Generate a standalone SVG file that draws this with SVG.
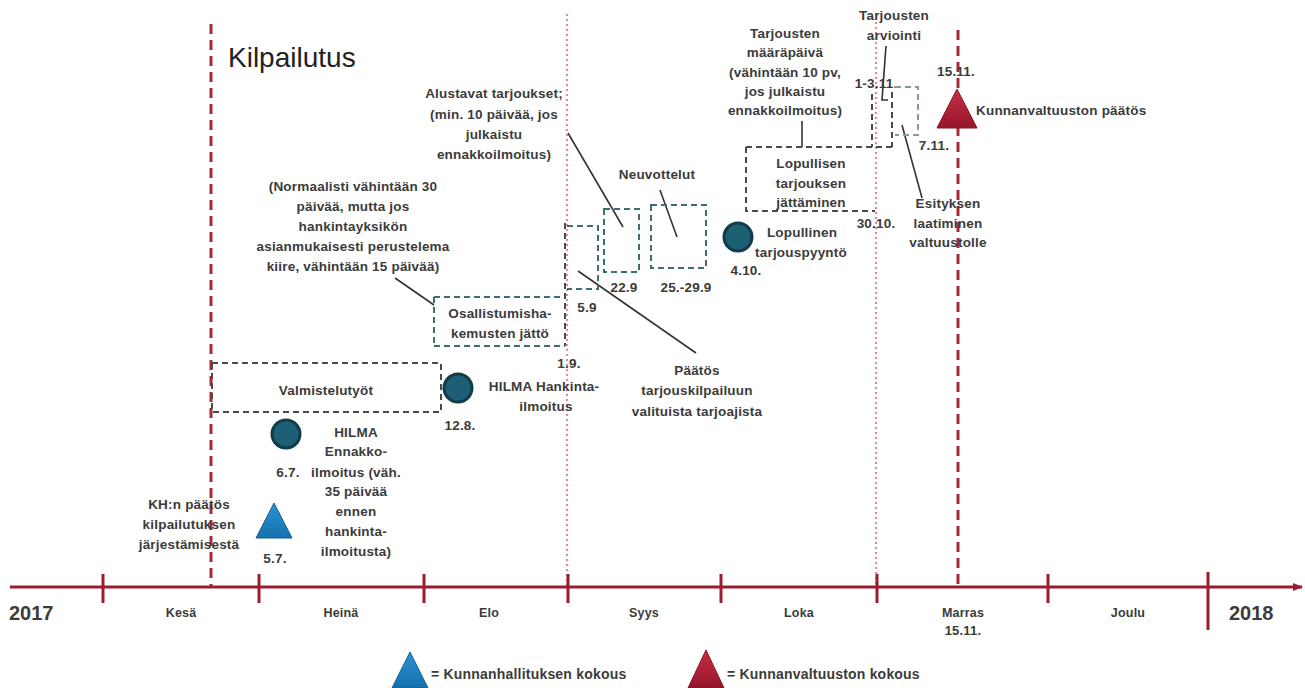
<svg xmlns="http://www.w3.org/2000/svg" width="1305" height="688" viewBox="0 0 1305 688">
<style>
.t{font-family:"Liberation Sans",Arial,sans-serif;font-size:13.5px;letter-spacing:0.2px;font-weight:bold;fill:#3b3b3b;text-anchor:middle}
.s{text-anchor:start}
.big{font-size:20px;letter-spacing:0}
.mon{font-size:12.5px}
.dt{font-size:13px}
.leg{font-size:14px}
.ttl{font-size:28px;font-weight:normal;fill:#222;letter-spacing:0}
.box{fill:none;stroke:#4a4a4a;stroke-width:2;stroke-dasharray:6 4}
.teal{stroke:#3f6e72}
.light{stroke:#8a9a9c}
.lead{fill:none;stroke:#333;stroke-width:1.6}
.reddash{stroke:#a82a35;stroke-width:3;stroke-dasharray:10 6}
.pink{stroke:#e0899d;stroke-width:2.2;stroke-dasharray:2 3}
.axis{stroke:#9b1c31;stroke-width:3}
.tick{stroke:#9b1c31;stroke-width:3}
.dot{fill:#1d5f75;stroke:#123c4a;stroke-width:3}
</style>
<defs>
<marker id="arr" markerWidth="10" markerHeight="8" refX="9" refY="4" orient="auto" markerUnits="userSpaceOnUse">
<path d="M0,0 L10,4 L0,8 z" fill="#9b1c31"/>
</marker>
<linearGradient id="blueG" x1="0" y1="0" x2="0" y2="1">
<stop offset="0" stop-color="#2a93d6"/><stop offset="1" stop-color="#1670ad"/>
</linearGradient>
<linearGradient id="redG" x1="0" y1="0" x2="0" y2="1">
<stop offset="0" stop-color="#c82f45"/><stop offset="1" stop-color="#951629"/>
</linearGradient>
</defs>
<rect width="1305" height="688" fill="#ffffff"/>

<g id="guides">
<line class="reddash" x1="211" y1="24" x2="211" y2="586"/>
<line class="reddash" x1="958" y1="30" x2="958" y2="586"/>
<line class="pink" x1="567" y1="14" x2="567" y2="586"/>
<line class="pink" x1="876" y1="22" x2="876" y2="586"/>
</g>

<g id="axis">
<line class="axis" x1="10" y1="587" x2="1302" y2="587" marker-end="url(#arr)"/>
<line class="tick" x1="103" y1="574" x2="103" y2="603"/>
<line class="tick" x1="259" y1="574" x2="259" y2="603"/>
<line class="tick" x1="424" y1="574" x2="424" y2="603"/>
<line class="tick" x1="568" y1="574" x2="568" y2="603"/>
<line class="tick" x1="721" y1="574" x2="721" y2="603"/>
<line class="tick" x1="877" y1="574" x2="877" y2="603"/>
<line class="tick" x1="1048" y1="574" x2="1048" y2="603"/>
<line class="tick" x1="1208" y1="572" x2="1208" y2="630"/>
<text class="t big s" x="9" y="620">2017</text>
<text class="t mon" x="181" y="617">Kesä</text>
<text class="t mon" x="341" y="617">Heinä</text>
<text class="t mon" x="489" y="617">Elo</text>
<text class="t mon" x="644" y="617">Syys</text>
<text class="t mon" x="799" y="617">Loka</text>
<text class="t mon" x="963" y="617">Marras</text>
<text class="t dt" x="963" y="635">15.11.</text>
<text class="t mon" x="1128" y="617">Joulu</text>
<text class="t big s" x="1229" y="620">2018</text>
</g>

<g id="title">
<text class="t s ttl" x="228" y="67">Kilpailutus</text>
</g>

<g id="connectors">
<line class="lead" x1="395" y1="278" x2="434" y2="305"/>
<line class="lead" x1="568" y1="133" x2="623" y2="227"/>
<line class="lead" x1="660" y1="190" x2="677" y2="237"/>
<line class="lead" x1="578" y1="271" x2="696" y2="353"/>
<line class="lead" x1="802" y1="121" x2="802" y2="147"/>
<polyline class="lead" points="886,46 882,100 888,100"/>
<line class="lead" x1="902" y1="125" x2="922" y2="198"/>
</g>

<g id="valmistelu">
<rect class="box" x="212" y="363" width="229" height="49"/>
<text class="t" x="326" y="395">Valmistelutyöt</text>
</g>

<g id="kh-paatos">
<polygon points="274,503 256,538 292,538" fill="url(#blueG)" stroke="#135f94" stroke-width="1"/>
<text class="t" x="275" y="563">5.7.</text>
<text class="t" x="189" y="509">KH:n päätös</text>
<text class="t" x="189" y="529">kilpailutuksen</text>
<text class="t" x="189" y="549">järjestämisestä</text>
</g>

<g id="hilma-ennakko">
<circle class="dot" cx="286" cy="434" r="14"/>
<text class="t" x="288" y="477">6.7.</text>
<text class="t" x="356" y="437">HILMA</text>
<text class="t" x="356" y="456">Ennakko-</text>
<text class="t" x="356" y="477">ilmoitus (väh.</text>
<text class="t" x="356" y="496">35 päivää</text>
<text class="t" x="356" y="516">ennen</text>
<text class="t" x="356" y="536">hankinta-</text>
<text class="t" x="356" y="556">ilmoitusta)</text>
</g>

<g id="hilma-hankinta">
<circle class="dot" cx="458" cy="388" r="14"/>
<text class="t" x="460" y="430">12.8.</text>
<text class="t" x="544" y="391">HILMA Hankinta-</text>
<text class="t" x="546" y="411">ilmoitus</text>
</g>

<g id="osallistumis">
<path class="box teal" d="M434,297 H565 M434,297 V346 M434,346 H565"/>
<line class="box" x1="565" y1="223" x2="565" y2="346"/>
<text class="t" x="500" y="318">Osallistumisha-</text>
<text class="t" x="500" y="338">kemusten jättö</text>
<text class="t" x="569" y="368">1.9.</text>
<text class="t" x="587" y="312">5.9</text>
<text class="t" x="353" y="191">(Normaalisti vähintään 30</text>
<text class="t" x="353" y="211">päivää, mutta jos</text>
<text class="t" x="353" y="231">hankintayksikön</text>
<text class="t" x="353" y="251">asianmukaisesti perustelema</text>
<text class="t" x="353" y="271">kiire, vähintään 15 päivää)</text>
</g>

<g id="alustavat">
<path class="box teal" d="M567,226 H598 V289 H567"/>
<rect class="box teal" x="604" y="209" width="35" height="63"/>
<text class="t" x="624" y="292">22.9</text>
<text class="t" x="494" y="98">Alustavat tarjoukset;</text>
<text class="t" x="494" y="119">(min. 10 päivää, jos</text>
<text class="t" x="494" y="139">julkaistu</text>
<text class="t" x="494" y="159">ennakkoilmoitus)</text>
</g>

<g id="neuvottelut">
<rect class="box teal" x="651" y="205" width="55" height="63"/>
<text class="t" x="657" y="179">Neuvottelut</text>
<text class="t" x="686" y="292">25.-29.9</text>
</g>

<g id="paatos-valinta">
<text class="t" x="697" y="375">Päätös</text>
<text class="t" x="697" y="395">tarjouskilpailuun</text>
<text class="t" x="697" y="416">valituista tarjoajista</text>
</g>

<g id="lopullinen-pyynto">
<circle class="dot" cx="738" cy="237" r="14"/>
<text class="t" x="746" y="275">4.10.</text>
<text class="t" x="802" y="237">Lopullinen</text>
<text class="t" x="801" y="257">tarjouspyyntö</text>
</g>

<g id="lopullisen-jattaminen">
<path class="box" d="M746,147 H892 M746,147 V211 H875"/>
<text class="t" x="811" y="168">Lopullisen</text>
<text class="t" x="811" y="188">tarjouksen</text>
<text class="t" x="811" y="207">jättäminen</text>
<text class="t" x="876" y="228">30.10.</text>
<text class="t" x="785" y="38">Tarjousten</text>
<text class="t" x="785" y="57">määräpäivä</text>
<text class="t" x="785" y="77">(vähintään 10 pv,</text>
<text class="t" x="785" y="96">jos julkaistu</text>
<text class="t" x="785" y="115">ennakkoilmoitus)</text>
</g>

<g id="arviointi">
<path class="box" d="M872,94 V147 M892,92 V147"/>
<text class="t" x="876" y="88">1-3.11.</text>
<text class="t" x="894" y="20">Tarjousten</text>
<text class="t" x="894" y="40">arviointi</text>
</g>

<g id="esitys">
<path class="box light" d="M895,87 H918 V135 H895"/>
<text class="t" x="934" y="150">7.11.</text>
<text class="t" x="948" y="208">Esityksen</text>
<text class="t" x="948" y="228">laatiminen</text>
<text class="t" x="948" y="247">valtuustolle</text>
</g>

<g id="kv-paatos">
<polygon points="957,89 937,128 977,128" fill="url(#redG)" stroke="#8a1224" stroke-width="1"/>
<text class="t" x="956" y="76">15.11.</text>
<text class="t s" x="976" y="115">Kunnanvaltuuston päätös</text>
</g>

<g id="legend">
<polygon points="410,652 392,688 428,688" fill="url(#blueG)" stroke="#135f94" stroke-width="1"/>
<text class="t s leg" x="431" y="679">= Kunnanhallituksen kokous</text>
<polygon points="706,650 688,688 724,688" fill="url(#redG)" stroke="#8a1224" stroke-width="1"/>
<text class="t s leg" x="727" y="679">= Kunnanvaltuuston kokous</text>
</g>
</svg>
